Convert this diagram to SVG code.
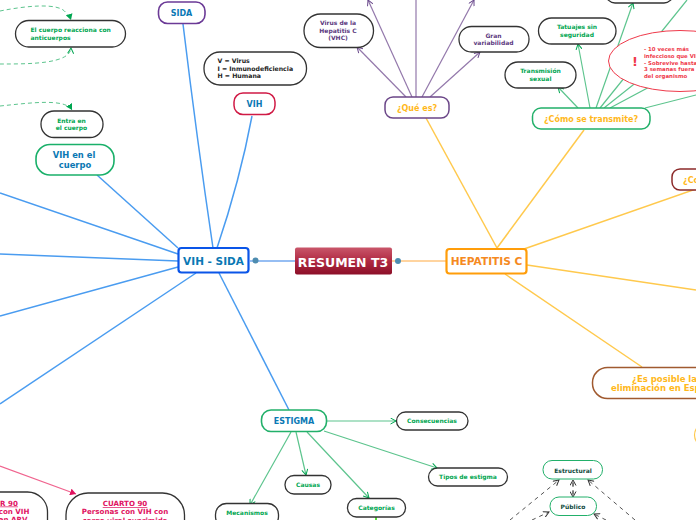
<svg xmlns="http://www.w3.org/2000/svg" width="696" height="520" viewBox="0 0 696 520">
<defs>
<linearGradient id="root" x1="0" y1="0" x2="0" y2="1"><stop offset="0" stop-color="#c9566a"/><stop offset="0.5" stop-color="#b02a42"/><stop offset="1" stop-color="#8c0f28"/></linearGradient>
<marker id="ag" markerWidth="7" markerHeight="7" refX="6" refY="3.5" orient="auto" markerUnits="userSpaceOnUse"><path d="M0.5,0.5L6,3.5L0.5,6.5" fill="none" stroke="#00a651" stroke-width="1"/></marker>
<marker id="agf" markerWidth="7" markerHeight="7" refX="6" refY="3.5" orient="auto" markerUnits="userSpaceOnUse"><path d="M0,0L6,3.5L0,7z" fill="#00a651"/></marker>
<marker id="ap" markerWidth="7" markerHeight="7" refX="6" refY="3.5" orient="auto" markerUnits="userSpaceOnUse"><path d="M0.5,0.5L6,3.5L0.5,6.5" fill="none" stroke="#6a4a8c" stroke-width="1"/></marker>
<marker id="ar" markerWidth="7" markerHeight="7" refX="6" refY="3.5" orient="auto" markerUnits="userSpaceOnUse"><path d="M0,0L6,3.5L0,7z" fill="#e0125f"/></marker>
<marker id="ak" markerWidth="7" markerHeight="7" refX="6" refY="3.5" orient="auto" markerUnits="userSpaceOnUse"><path d="M0.5,0.5L6,3.5L0.5,6.5" fill="none" stroke="#333" stroke-width="1"/></marker>
</defs>
<style>
text{font-family:"DejaVu Sans",Verdana,sans-serif;font-weight:700;text-anchor:middle}
.n{fill:#fff;stroke:#333;stroke-width:1.3}
.b{fill:none;stroke:#4a9cf0;stroke-width:1.5}
.y{fill:none;stroke:#ffc94d;stroke-width:1.5}
.p{fill:none;stroke:#9378ab;stroke-width:1.2}
.g{fill:none;stroke:#5cc48d;stroke-width:1.2}
.gd{fill:none;stroke:#5cc48d;stroke-width:1;stroke-dasharray:4 3}
.kd{fill:none;stroke:#555;stroke-width:1;stroke-dasharray:4 4}
.s{font-size:6px}.st{text-anchor:start}.t8{font-size:8px}.t7{font-size:7.1px}.t9{font-size:8.4px}
.grn{fill:#00a651}.blu{fill:#0a78b4}.pur{fill:#5c3a80}.yel{fill:#ffb81c}.pnk{fill:#e0125f}.blk{fill:#222}.dk{fill:#0f4a3c}
</style>
<g id="connectors">
<path class="b" d="M183,24Q197,140 213,248"/>
<path class="b" d="M252,116Q240,180 217,248"/>
<path class="b" d="M97,175L178,248"/>
<path class="b" d="M0,193L178,254"/>
<path class="b" d="M0,254L178,261"/>
<path class="b" d="M0,316L178,267"/>
<path class="b" d="M0,404L196,273"/>
<path class="b" d="M219,273L289,410"/>
<path d="M250,261H296" fill="none" stroke="#2f7fe8" stroke-width="1.2"/>
<path d="M392,261H446" fill="none" stroke="#ffa940" stroke-width="1"/>
<path class="y" d="M426,118L497,248"/>
<path class="y" d="M584,130L497,248"/>
<path class="y" d="M696,189L524,249"/>
<path class="y" d="M696,290L527,265"/>
<path class="y" d="M642,367L505,274"/>
<path class="p" marker-end="url(#ap)" d="M406,97L357,47"/>
<path class="p" marker-end="url(#ap)" d="M412,97L368,0"/>
<path class="p" d="M416,97V0"/>
<path class="p" marker-end="url(#ap)" d="M422,97L474,0"/>
<path class="p" marker-end="url(#ap)" d="M430,97L480,52"/>
<path class="g" marker-end="url(#ag)" d="M578,108L558,87"/>
<path class="g" marker-end="url(#ag)" d="M590,108L578,44"/>
<path class="g" marker-end="url(#ag)" d="M596,108L633,3"/>
<path class="g" d="M600,108L687,0"/>
<path class="g" d="M604,108L696,35"/>
<path class="g" d="M610,108L696,62"/>
<path class="g" d="M645,108L696,95"/>
<path class="g" marker-end="url(#ag)" d="M291,432L250,505"/>
<path class="g" marker-end="url(#ag)" d="M296,432L306,475"/>
<path class="g" marker-end="url(#ag)" d="M307,432L369,498"/>
<path class="g" marker-end="url(#ag)" d="M324,431L437,468"/>
<path class="g" stroke-width="1.5" marker-end="url(#ag)" d="M327,421L396,421"/>
<path d="M376,517V520" stroke="#5be03c" stroke-width="2"/>
<path class="gd" marker-end="url(#agf)" d="M0,11C25,6 60,2 66,13Q70,17 71,20"/>
<path class="gd" marker-end="url(#ag)" d="M0,64C30,64 70,64 71,48"/>
<path class="gd" marker-end="url(#agf)" d="M0,106C30,103 65,98 72,110"/>
<path d="M0,466L76,494" fill="none" stroke="#f0648f" stroke-width="1.2" marker-end="url(#ar)"/>
<path class="kd" marker-end="url(#ak)" d="M510,520L559,480"/>
<path class="kd" marker-end="url(#ak)" d="M532,520L549,512"/>
<path class="kd" marker-end="url(#ak)" d="M573,495V480"/>
<path class="kd" marker-end="url(#ak)" d="M573,482V497"/>
<path class="kd" marker-end="url(#ak)" d="M635,520L588,480"/>
<path class="kd" marker-end="url(#ak)" d="M606,520L594,514"/>
</g>
<g id="n-el-cuerpo"><rect class="n" x="15.500" y="20.500" width="110" height="26.500" rx="13.200"/><text class="s grn st" x="30.500" y="31.500">El cuerpo reacciona con</text><text class="s grn st" x="30.500" y="40">anticuerpos</text></g>
<g id="n-entra"><rect class="n" x="41" y="111" width="62" height="26.500" rx="13"/><text class="s grn" x="71.500" y="123">Entra en</text><text class="s grn" x="71.500" y="130">el cuerpo</text></g>
<g id="n-vih-cuerpo"><rect x="36" y="144.500" width="78" height="30.500" rx="14" fill="#fff" stroke="#1ab06a" stroke-width="1.600"/><text class="t9 blu" x="74" y="158">VIH en el</text><text class="t9 blu" x="75" y="168">cuerpo</text></g>
<g id="n-sida"><rect x="158.500" y="2" width="46.500" height="21.500" rx="9" fill="#fff" stroke="#6b3a96" stroke-width="1.600"/><text class="t8 blu" x="181.500" y="16">SIDA</text></g>
<g id="n-vih-def"><rect class="n" x="204" y="52" width="102.500" height="33" rx="16"/><text class="s blk st" x="217.500" y="63" style="font-size:6.200px">V = Virus</text><text class="s blk st" x="217.500" y="70.500" style="font-size:6.200px">I = Inmunodeficiencia</text><text class="s blk st" x="217.500" y="78" style="font-size:6.200px">H = Humana</text></g>
<g id="n-vih"><rect x="234" y="93" width="41" height="21.500" rx="9" fill="#fff" stroke="#d01a45" stroke-width="1.500"/><text class="t8 blu" x="254.500" y="107">VIH</text></g>
<g id="n-vih-sida"><rect x="178.500" y="248" width="70" height="24.500" rx="3" fill="#fff" stroke="#0a55e8" stroke-width="2.200"/><text class="blu" x="213.500" y="264.500" font-size="10.500">VIH - SIDA</text><circle cx="255.500" cy="260.500" r="3" fill="#4d8cb0"/></g>
<g id="n-root"><rect x="295" y="247.500" width="97" height="27" rx="2" fill="url(#root)"/><text x="343" y="266.500" font-size="12.500" fill="#fff">RESUMEN T3</text><circle cx="398" cy="261" r="3" fill="#4d8cb0"/></g>
<g id="n-hep"><rect x="446.500" y="249" width="80" height="24.500" rx="3" fill="#fff" stroke="#ff9d0a" stroke-width="2.200"/><text x="486.500" y="265" font-size="10.600" fill="#f58a1f">HEPATITIS C</text></g>
<g id="n-vhc"><rect class="n" x="304" y="14" width="69.500" height="33.500" rx="16.500"/><text class="s pur" x="338" y="25">Virus de la</text><text class="s pur" x="338" y="32.500">Hepatitis C</text><text class="s pur" x="338" y="40">(VHC)</text></g>
<g id="n-gran"><rect class="n" x="459" y="26.500" width="70" height="25.500" rx="12.500"/><text class="s pur" x="493.500" y="38">Gran</text><text class="s pur" x="493.500" y="45">variabilidad</text></g>
<g id="n-que"><rect x="385" y="97" width="64" height="21" rx="8" fill="#fff" stroke="#6b4688" stroke-width="1.500"/><text class="t8 yel" x="417" y="110.500">¿Qué es?</text></g>
<g id="n-tatuajes"><rect class="n" x="538.500" y="18" width="77.500" height="26" rx="13"/><text class="s grn" x="577" y="29">Tatuajes sin</text><text class="s grn" x="577" y="37">seguridad</text></g>
<g id="n-sexual"><rect class="n" x="505" y="62" width="71" height="26" rx="13"/><text class="s grn" x="540.500" y="73">Transmisión</text><text class="s grn" x="540.500" y="81">sexual</text></g>
<g id="n-top"><rect class="n" x="606" y="-16" width="67" height="19" rx="9"/></g>
<g id="n-alerta"><ellipse cx="680" cy="61" rx="71.500" ry="30.500" fill="#fff" stroke="#ef3a4b" stroke-width="1"/><text x="635" y="66" font-size="13" fill="#ef3a4b">!</text><g fill="#ef3a4b" style="font-size:5.400px"><text class="st" x="644" y="51">- 10 veces más</text><text class="st" x="644" y="57.500">infeccioso que VIH</text><text class="st" x="644" y="64.500">- Sobrevive hasta</text><text class="st" x="644" y="71">3 semanas fuera</text><text class="st" x="644" y="77.500">del organismo</text></g></g>
<g id="n-como"><rect x="532.500" y="108" width="117.500" height="21" rx="8.500" fill="#fff" stroke="#22b06a" stroke-width="1.500"/><text class="t8 yel" x="591" y="122">¿Cómo se transmite?</text></g>
<g id="n-co"><rect x="672" y="169" width="40" height="21" rx="8" fill="#fff" stroke="#8c2a2a" stroke-width="1.500"/><text class="t8 yel st" x="683" y="183">¿Co</text></g>
<g id="n-elim"><rect x="592.500" y="367.500" width="150" height="31" rx="15" fill="#fff" stroke="#a05a30" stroke-width="1.500"/><text class="yel st" x="632" y="382" font-size="8.500">¿Es posible la</text><text class="yel st" x="611" y="391" font-size="8.500">eliminación en Espa</text></g>
<g id="n-partial"><rect x="694.500" y="423" width="30" height="24" rx="12" fill="#fff" stroke="#ffc94d" stroke-width="1.200"/></g>
<g id="n-estigma"><rect x="261.500" y="410" width="65" height="21.500" rx="9.500" fill="#fff" stroke="#22b06a" stroke-width="1.600"/><text class="t8 blu" x="294" y="424">ESTIGMA</text></g>
<g id="n-conse"><rect class="n" x="396.500" y="412" width="71.500" height="18" rx="9"/><text class="s grn" x="432" y="423">Consecuencias</text></g>
<g id="n-tipos"><rect class="n" x="428.500" y="468" width="79" height="18" rx="9"/><text class="s grn" x="468" y="479">Tipos de estigma</text></g>
<g id="n-causas"><rect class="n" x="285" y="475.500" width="46" height="18.500" rx="9"/><text class="s grn" x="308" y="487">Causas</text></g>
<g id="n-cat"><rect class="n" x="347.500" y="498.500" width="58" height="18.500" rx="9"/><text class="s grn" x="376.500" y="510">Categorías</text></g>
<g id="n-meca"><rect class="n" x="215.500" y="503.500" width="63" height="24" rx="11"/><text class="s grn" x="247" y="515">Mecanismos</text></g>
<g id="n-estruct"><rect x="543" y="460.500" width="59.500" height="18.500" rx="9" fill="#fff" stroke="#22b06a"/><text class="s dk" x="573" y="472.500">Estructural</text></g>
<g id="n-publico"><rect x="550" y="497" width="46.500" height="18.500" rx="9" fill="#fff" stroke="#22b06a"/><text class="s dk" x="573" y="508.500">Público</text></g>
<g id="n-tercer"><rect class="n" x="-30" y="492" width="77.500" height="50" rx="20"/><text class="t7 pnk" x="9" y="505.500" text-decoration="underline">R 90</text><text class="t7 pnk" x="14" y="513.500">con VIH</text><text class="t7 pnk" x="13" y="521.500">an ARV</text></g>
<g id="n-cuarto"><rect class="n" x="66" y="493" width="118.500" height="50" rx="22"/><text class="t7 pnk" x="125" y="506" text-decoration="underline">CUARTO 90</text><text class="t7 pnk" x="125" y="514">Personas con VIH con</text><text class="t7 pnk" x="125" y="522.500">carga viral suprimida</text></g>
</svg>
